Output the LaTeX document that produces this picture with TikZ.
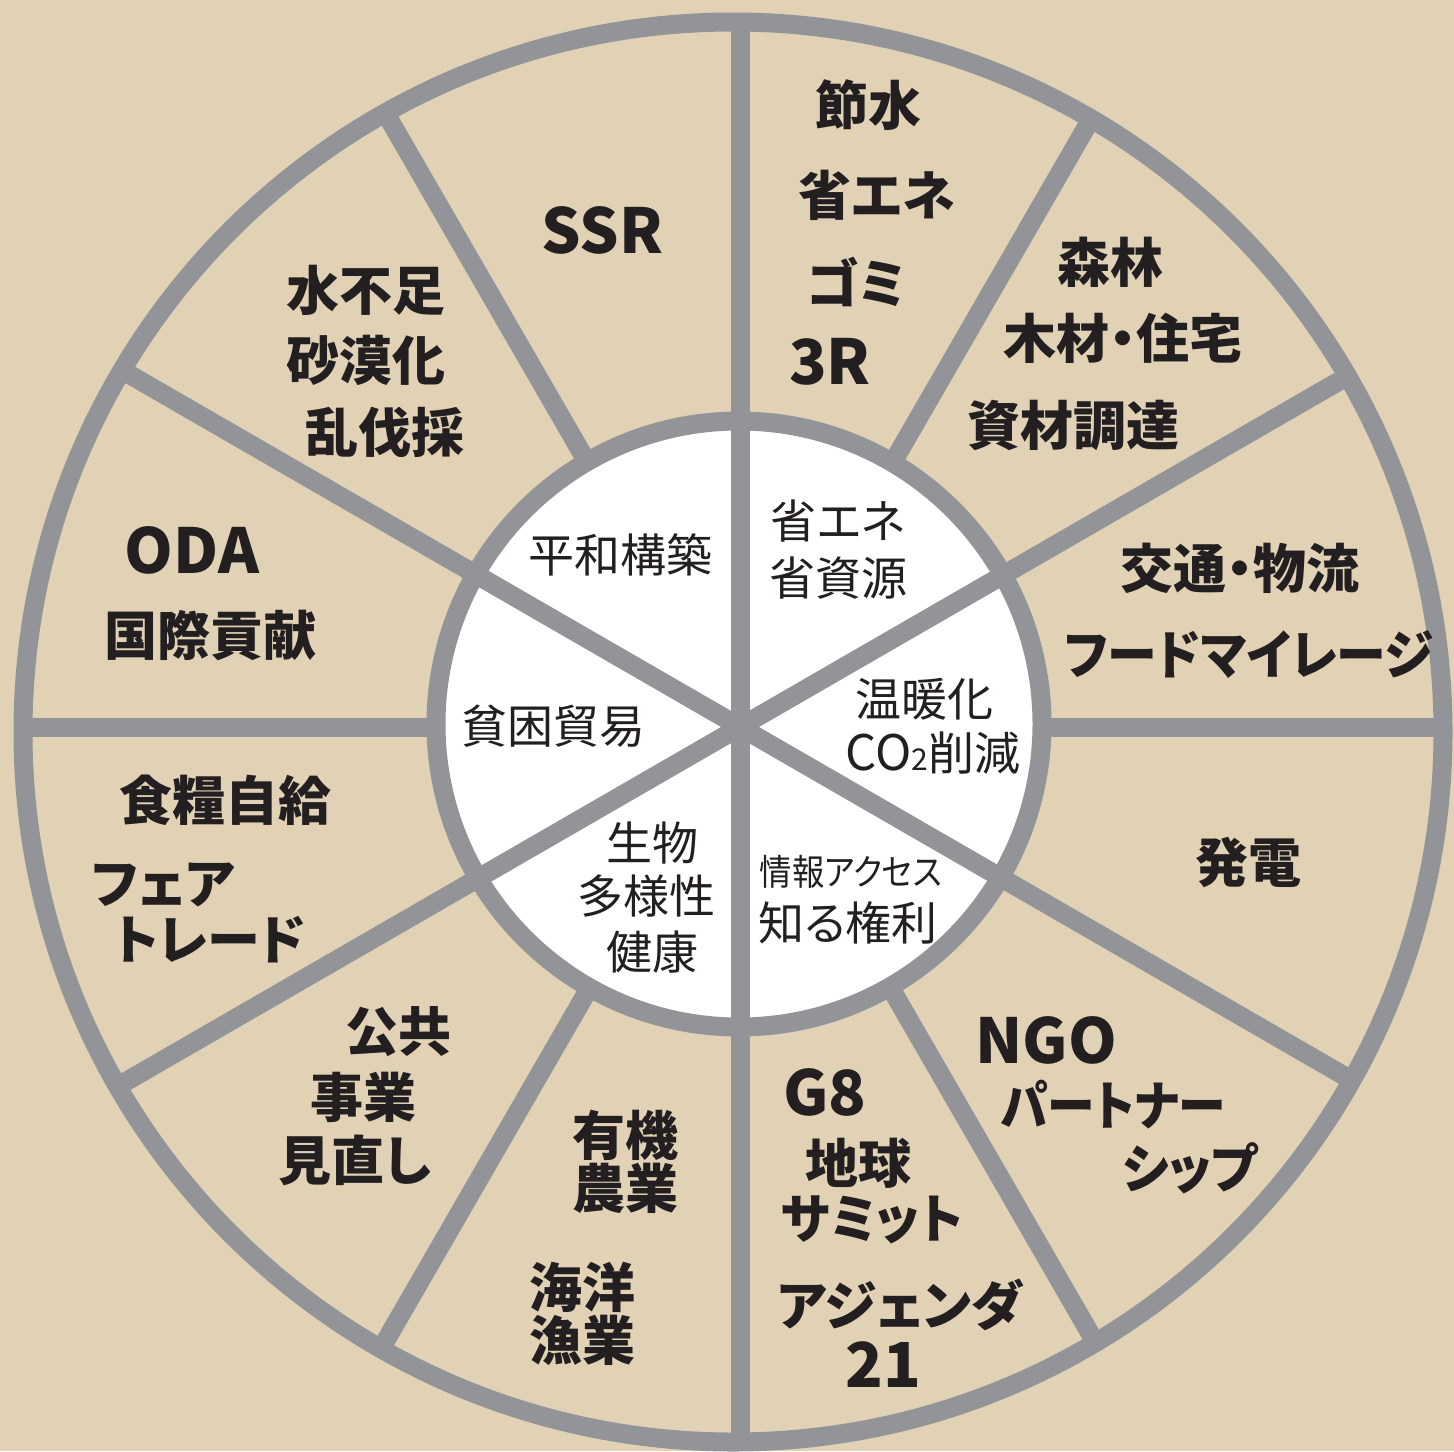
\documentclass[tikz,border=0pt]{standalone}
\usepackage{fontspec}
\setmainfont{Noto Sans CJK JP}[RawFeature=+palt]
\usetikzlibrary{calc}
\definecolor{bg}{RGB}{225,210,182}
\definecolor{ring}{RGB}{147,148,152}
\definecolor{ink}{RGB}{35,31,32}
\tikzset{
  outer/.style={text=ink, font=\fontsize{26.5pt}{30pt}\selectfont\bfseries, inner sep=0pt},
  latin/.style={text=ink, font=\fontsize{31pt}{34pt}\selectfont\bfseries, inner sep=0pt},
  innert/.style={text=ink, font=\fontsize{23pt}{27pt}\selectfont, inner sep=0pt},
  spoke/.style={draw=ring, line width=9.5pt},
  ringline/.style={draw=ring, line width=9.5pt},
}
\begin{document}
\begin{tikzpicture}[x=0.5pt,y=-0.5pt]
\fill[bg] (0,0) rectangle (1454,1451);
\useasboundingbox (0,0) rectangle (1454,1451);
\coordinate (oc) at (733,732);
\coordinate (ic) at (739,724);
\coordinate (hub) at (740,727);
\fill[white] (ic) circle[radius=151.5pt];
\begin{scope}
  \clip (oc) circle[radius=355pt];
  \foreach \a in {30,90,...,330} \draw[spoke] (hub) -- ($(hub)+(\a:450pt)$);
  \foreach \a in {0,60,...,300} \draw[spoke] ($(hub)+(\a:150pt)$) -- ($(hub)+(\a:450pt)$);
\end{scope}
\draw[ringline] (oc) circle[radius=355pt];
\draw[ringline] (ic) circle[radius=151.5pt];

% sector 60-90
\node[outer] (a1) at (868,105) {節水};
\node[outer] (a2) at (877,195) {省エネ};
\node[outer] (a3) at (856,282) {ゴミ};
\node[latin] (a4) at (830,362) {3R};
% sector 30-60
\node[outer] (b1) at (1110,262) {森林};
\node[outer] (b2) at (1123,338) {木材・住宅};
\node[outer] (b3) at (1073,425) {資材調達};
% sector 0-30
\node[outer] (c1) at (1240,568) {交通・物流};
\node[outer] (c2) at (1249,655) {\scalebox{0.94}[1]{フードマイレージ}};
% sector 330-360
\node[outer] (d1) at (1248,862) {発電};
% sector 300-330
\node[latin] (e1) at (1046,1040) {NGO};
\node[outer] (e2) at (1113,1105) {\scalebox{0.9}[1]{パートナー}};
\node[outer] (e3) at (1190,1168) {\scalebox{0.95}[1]{シップ}};
% sector 270-300
\node[latin] (f1) at (825,1092) {G8};
\node[outer] (f2) at (858,1163) {地球};
\node[outer] (f3) at (872,1220) {\scalebox{0.97}[1]{サミット}};
\node[outer] (f4) at (900,1305) {アジェンダ};
\node[latin] (f5) at (883,1365) {21};
% sector 240-270
\node[outer] (g1) at (625,1135) {有機};
\node[outer] (g2) at (625,1188) {農業};
\node[outer] (g3) at (582,1287) {海洋};
\node[outer] (g4) at (582,1340) {漁業};
% sector 210-240
\node[outer] (h1) at (398,1032) {公共};
\node[outer] (h2) at (363,1097) {事業};
\node[outer] (h3) at (355,1160) {見直し};
% sector 180-210
\node[outer] (i1) at (225,800) {食糧自給};
\node[outer] (i2) at (163,885) {フェア};
\node[outer] (i3) at (210,940) {トレード};
% sector 150-180
\node[latin] (j1) at (192,550) {ODA};
\node[outer] (j2) at (210,635) {国際貢献};
% sector 120-150
\node[outer] (k1) at (366,290) {水不足};
\node[outer] (k2) at (366,360) {砂漠化};
\node[outer] (k3) at (385,432) {乱伐採};
% sector 90-120
\node[latin] (l1) at (602,230) {SSR};

% inner sectors
\node[innert] (m1) at (620,555) {平和構築};
\node[innert] (n1) at (838,521) {省エネ};
\node[innert] (n2) at (838,578) {省資源};
\node[innert] (o1) at (924,699) {温暖化};
\node[innert] (o2) at (933,753) {\fontsize{24.5pt}{27pt}\selectfont CO{\fontsize{15pt}{15pt}\selectfont 2}\fontsize{23pt}{27pt}\selectfont 削減};
\node[innert] (p1) at (553,726) {貧困貿易};
\node[innert] (q1) at (652,843) {生物};
\node[innert] (q2) at (646,896) {多様性};
\node[innert] (q3) at (652,952) {健康};
\node[innert, font=\fontsize{18pt}{20pt}\selectfont] (r1) at (851,872) {\scalebox{0.9}[1]{情報アクセス}};
\node[innert] (r2) at (848,923) {知る権利};
\end{tikzpicture}
\end{document}
